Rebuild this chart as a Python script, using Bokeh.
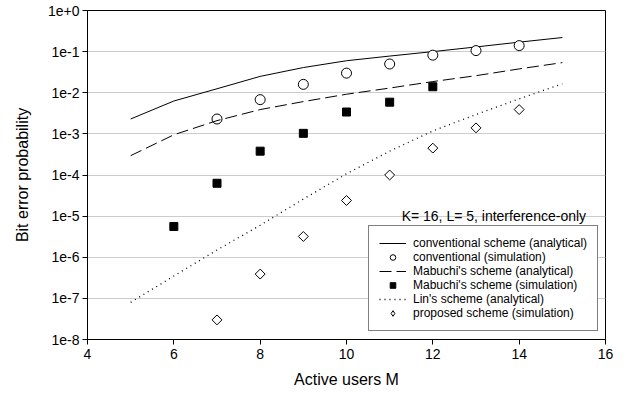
import math
from bokeh.plotting import figure
from bokeh.models import (Range1d, FixedTicker, CustomJSTickFormatter, Legend, LegendItem, Label)
from bokeh.embed import file_html
from bokeh.resources import INLINE

# ---- data ----
m_analytic = [5, 6, 7, 8, 9, 10, 11, 12, 13, 14, 15]
conv_analytic = [2.3e-3, 6.3e-3, 1.25e-2, 2.5e-2, 4.1e-2, 6.0e-2, 7.8e-2, 1.0e-1, 1.3e-1, 1.7e-1, 2.2e-1]
mab_analytic = [2.95e-4, 9.5e-4, 2.1e-3, 3.9e-3, 6.1e-3, 9.2e-3, 1.3e-2, 1.87e-2, 2.6e-2, 3.8e-2, 5.4e-2]
lin_analytic = [8e-8, 3.5e-7, 1.5e-6, 6e-6, 2.6e-5, 1.07e-4, 3.8e-4, 1.18e-3, 2.95e-3, 7.1e-3, 1.65e-2]

m_conv_sim = [7, 8, 9, 10, 11, 12, 13, 14]
conv_sim = [2.3e-3, 6.8e-3, 1.6e-2, 3.0e-2, 5.0e-2, 8.2e-2, 1.06e-1, 1.4e-1]

m_mab_sim = [6, 7, 8, 9, 10, 11, 12]
mab_sim = [5.6e-6, 6.3e-5, 3.8e-4, 1.03e-3, 3.4e-3, 5.9e-3, 1.4e-2]

m_prop_sim = [7, 8, 9, 10, 11, 12, 13, 14]
prop_sim = [3e-8, 3.9e-7, 3.2e-6, 2.4e-5, 1.0e-4, 4.5e-4, 1.4e-3, 3.9e-3]

x_ticks = [4, 6, 8, 10, 12, 14, 16]
y_ticks = [1e-8, 1e-7, 1e-6, 1e-5, 1e-4, 1e-3, 1e-2, 1e-1, 1e0]
y_tick_labels = ["1e-8", "1e-7", "1e-6", "1e-5", "1e-4", "1e-3", "1e-2", "1e-1", "1e+0"]

legend_labels = [
    "conventional scheme (analytical)",
    "conventional (simulation)",
    "Mabuchi's scheme (analytical)",
    "Mabuchi's scheme (simulation)",
    "Lin's scheme (analytical)",
    "proposed scheme (simulation)",
]
note_text = "K= 16, L= 5, interference-only"

FONT = "Liberation Sans"

p = figure(width=627, height=398, output_backend="svg", toolbar_location=None,
           y_axis_type="log",
           x_range=Range1d(4, 16), y_range=Range1d(1e-8, 1),
           min_border_left=87, min_border_right=22, min_border_top=10, min_border_bottom=59)
p.background_fill_color = "white"
p.border_fill_color = "white"
p.outline_line_color = "black"
p.outline_line_width = 1

p.xgrid.grid_line_color = None
p.ygrid.grid_line_color = "#cccccc"
p.ygrid.grid_line_width = 1
p.ygrid.ticker = FixedTicker(ticks=y_ticks)

p.xaxis.ticker = FixedTicker(ticks=x_ticks)
p.yaxis.ticker = FixedTicker(ticks=y_ticks)
p.yaxis.formatter = CustomJSTickFormatter(args=dict(tvals=y_ticks, tlabels=y_tick_labels), code="""
    const e = Math.round(Math.log10(tick));
    for (let i = 0; i < tvals.length; i++) {
        if (Math.round(Math.log10(tvals[i])) == e) return tlabels[i];
    }
    return "";
""")

for ax in (p.xaxis[0], p.yaxis[0]):
    ax.axis_line_color = "black"
    ax.axis_line_width = 1
    ax.major_tick_line_color = "black"
    ax.major_tick_out = 5
    ax.major_tick_in = 0
    ax.minor_tick_line_color = None
    ax.major_label_text_font = FONT
    ax.major_label_text_font_size = "14px"
    ax.major_label_text_color = "black"
    ax.axis_label_text_font = FONT
    ax.axis_label_text_font_size = "16px"
    ax.axis_label_text_font_style = "normal"
    ax.axis_label_text_color = "black"

p.xaxis.axis_label = "Active users M"
p.yaxis.axis_label = "Bit error probability"
p.xaxis.major_label_standoff = 4
p.yaxis.major_label_standoff = 3
p.xaxis.axis_label_standoff = 9
p.yaxis.axis_label_standoff = 14

r1 = p.line(m_analytic, conv_analytic, line_color="black", line_width=1)
r2 = p.scatter(m_conv_sim, conv_sim, marker="circle", size=10, fill_color="white",
               line_color="black", line_width=1)
r3 = p.line(m_analytic, mab_analytic, line_color="black", line_width=1, line_dash="12 5")
r4 = p.scatter(m_mab_sim, mab_sim, marker="square", size=8, fill_color="black",
               line_color="black", line_width=1)
r5 = p.line(m_analytic, lin_analytic, line_color="black", line_width=1.3, line_dash="1 4")
r6 = p.scatter(m_prop_sim, prop_sim, marker="square", angle=math.pi / 4, size=7,
               fill_color="white", line_color="black", line_width=1)
# hidden legend stand-in for the rotated squares (legend glyphs ignore angle)
r6_key = p.scatter(m_prop_sim, prop_sim, marker="diamond", size=10, fill_color="white",
                   line_color="black", line_width=1, visible=False)

renderers = [r1, r2, r3, r4, r5, r6_key]
legend = Legend(items=[LegendItem(label=l, renderers=[r]) for l, r in zip(legend_labels, renderers)],
                location=(281, 8), orientation="vertical",
                border_line_color="black", border_line_width=1,
                background_fill_color="white", background_fill_alpha=1,
                inactive_fill_alpha=0,
                label_text_font=FONT, label_text_font_size="12px", label_text_color="black",
                glyph_width=27, glyph_height=14, label_height=14, spacing=0,
                padding=10, margin=0, label_standoff=7)
p.add_layout(legend)

p.add_layout(Label(x=15.55, y=1e-5, text=note_text, text_align="right", text_baseline="middle",
                   text_font=FONT, text_font_size="14px", text_color="black"))

open("out.html", "w").write(file_html(p, INLINE))
